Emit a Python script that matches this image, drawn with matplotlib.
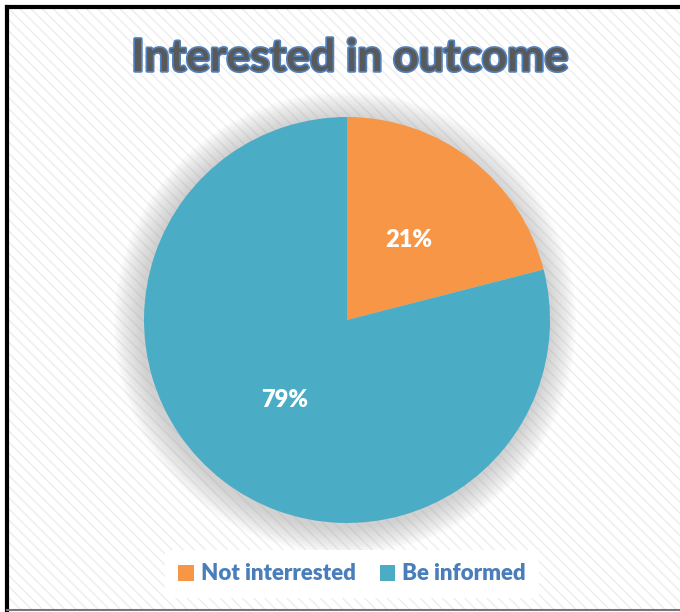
import matplotlib
matplotlib.use("Agg")
import matplotlib.pyplot as plt
import matplotlib.patheffects as pe
from matplotlib.patches import Rectangle, Circle

plt.rcParams['font.family'] = ['Lato', 'DejaVu Sans']

# data
labels = ["Not interrested", "Be informed"]
shares = [21, 79]
colors = ["#F79646", "#4BACC6"]
title = "Interested in outcome"

W, H = 680, 612
fig = plt.figure(figsize=(W / 100, H / 100), dpi=100)
ax = fig.add_axes([0, 0, 1, 1])
ax.set_xlim(0, W)
ax.set_ylim(0, H)
ax.set_aspect("equal")
ax.axis("off")

# striped chart area with the frame
bg = Rectangle((7, 2), W, H - 9, facecolor="white", edgecolor="#EDEDED",
               hatch="\\\\\\", linewidth=0, zorder=0)
ax.add_patch(bg)
ax.plot([6.5, 6.5], [2, H - 6.5], color="black", lw=3, zorder=5)
ax.plot([6.5, W], [H - 6.5, H - 6.5], color="black", lw=3, zorder=5)
ax.plot([6.5, W], [2, 2], color="#777777", lw=1.5, zorder=5)

cx, cy, r = 347, 292, 203

# soft shadow around the pie
for k in range(14):
    ax.add_patch(Circle((cx - 2, cy - 3), r + 28 - k * 2, facecolor="#A0A0A0",
                        alpha=0.04, edgecolor="none", zorder=1))

wedges, _, autotexts = ax.pie(
    shares, colors=colors, startangle=90, counterclock=False,
    center=(cx, cy), radius=r, autopct="%d%%", pctdistance=0.5,
    wedgeprops=dict(linewidth=0), frame=True,
    textprops=dict(color="white", fontsize=17, fontweight="heavy"))
for w in wedges:
    w.set_zorder(2)
for t in autotexts:
    t.set_zorder(3)
ax.set_xlim(0, W)
ax.set_ylim(0, H)
ax.axis("off")

ax.text(cx + 3, H - 58, title, ha="center", va="center", fontsize=32,
        fontweight="bold", color="#595959", zorder=4,
        path_effects=[pe.withStroke(linewidth=2.5, foreground="#4F81BD")])

leg = ax.legend(wedges, labels, loc="center", bbox_to_anchor=(cx + 5, 38),
                bbox_transform=ax.transData, ncol=2, frameon=True,
                fancybox=False, edgecolor="none", framealpha=1,
                prop=dict(size=16, weight="heavy"), handlelength=0.7,
                handleheight=0.7, handletextpad=0.3, columnspacing=1.1,
                borderpad=0.6)
for t in leg.get_texts():
    t.set_color("#4A7EBB")
leg.set_zorder(6)

fig.savefig("out.png", dpi=100)
